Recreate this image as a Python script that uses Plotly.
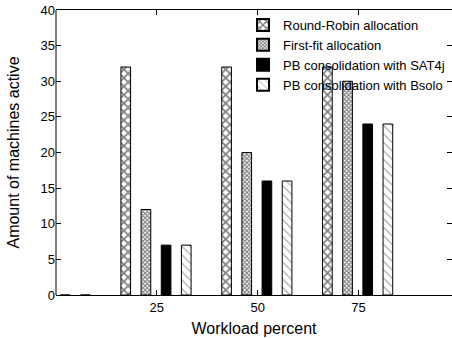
import plotly.graph_objects as go

workload = [0, 25, 50, 75]
series_names = [
    "Round-Robin allocation",
    "First-fit allocation",
    "PB consolidation with SAT4j",
    "PB consolidation with Bsolo",
]
round_robin = [0, 32, 32, 32]
first_fit = [0, 12, 20, 30]
pb_sat4j = [0, 7, 16, 24]
pb_bsolo = [0, 7, 16, 24]
x_ticks = [25, 50, 75]
y_ticks = [0, 5, 10, 15, 20, 25, 30, 35, 40]

values = [round_robin, first_fit, pb_sat4j, pb_bsolo]
centers = [-7.7, -2.7, 2.3, 7.3]
bar_w = 2.4
patterns = [
    dict(shape="x", fgcolor="black", bgcolor="white", size=6, solidity=0.5),
    dict(shape="x", fgcolor="black", bgcolor="white", size=3, solidity=0.6),
    dict(shape="", fgcolor="black", bgcolor="black"),
    dict(shape="\\", fgcolor="#555555", bgcolor="white", size=6, solidity=0.2),
]
fills = ["white", "white", "black", "white"]

fig = go.Figure()
for name, vals, c, pat, fc in zip(series_names, values, centers, patterns, fills):
    fig.add_trace(go.Bar(
        x=workload, y=vals, name=name,
        width=bar_w, offset=c - bar_w / 2,
        marker=dict(color=fc, pattern=pat, line=dict(color="black", width=1)),
    ))

font = dict(family="Liberation Sans, Arial, sans-serif", size=13, color="black")
fig.update_layout(
    width=452, height=338,
    margin=dict(l=56, r=0, t=10, b=43),
    paper_bgcolor="white", plot_bgcolor="white",
    font=font, barmode="overlay",
    showlegend=True,
    legend=dict(x=0.995, y=1.0, xanchor="right", yanchor="top",
                bgcolor="rgba(0,0,0,0)", font=font, tracegroupgap=0,
                itemsizing="constant"),
    xaxis=dict(range=[0, 98.2], tickvals=x_ticks, ticks="inside", ticklen=5,
               tickcolor="black", showline=True, linecolor="black", linewidth=1,
               mirror="ticks", showgrid=False, zeroline=False, automargin=False,
               title=dict(text="Workload percent", standoff=9)),
    yaxis=dict(range=[0, 40], tickvals=y_ticks, ticks="inside", ticklen=5,
               tickcolor="black", showline=False,
               mirror="ticks", showgrid=False, zeroline=False, automargin=False,
               title=dict(text="Amount of machines active", standoff=16)),
    shapes=[dict(type="line", xref="paper", yref="paper", x0=0, x1=0, y0=0, y1=1,
                 line=dict(color="black", width=1))],
)

fig.write_html("out.html", config={"displayModeBar": False},
               post_script="document.body.style.margin='0';")
